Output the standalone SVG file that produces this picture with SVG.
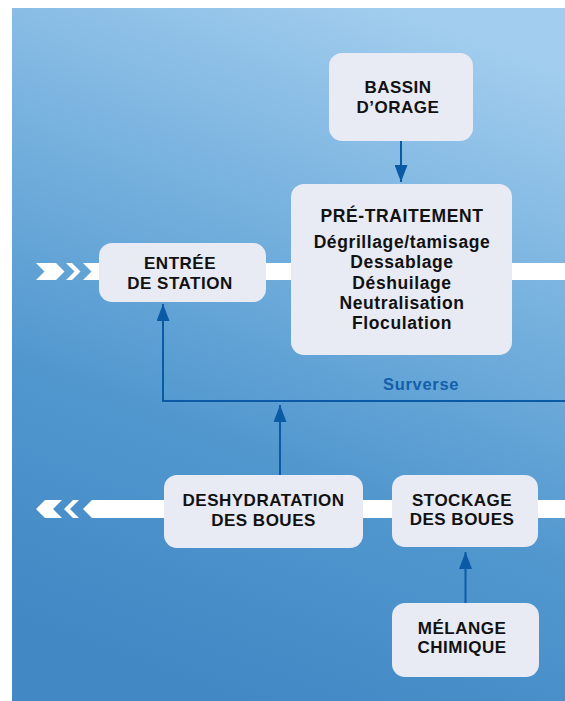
<svg xmlns="http://www.w3.org/2000/svg" width="565" height="701" viewBox="0 0 565 701">
<defs>
<linearGradient id="bg" x1="0.7" y1="0" x2="0.4" y2="1">
<stop offset="0" stop-color="#a2cdee"/>
<stop offset="0.3" stop-color="#7bb4e0"/>
<stop offset="0.65" stop-color="#5298cf"/>
<stop offset="1" stop-color="#4188c5"/>
</linearGradient>
<marker id="ah" markerUnits="userSpaceOnUse" markerWidth="17" markerHeight="13" viewBox="0 0 17 13" refX="17" refY="6.5" orient="auto">
<path d="M0,0 L17,6.5 L0,13 Z" fill="#0b5aa6"/>
</marker>
<style>
.box{fill:#e8eaf4;}
.lbl{font-family:"Liberation Sans",Arial,sans-serif;font-weight:bold;font-size:17px;letter-spacing:0.5px;fill:#111;text-anchor:middle;}
.pt{font-family:"Liberation Sans",Arial,sans-serif;font-weight:bold;font-size:17.5px;letter-spacing:0.6px;fill:#111;text-anchor:middle;}
.band{fill:#ffffff;}
.con{fill:none;stroke:#0b5aa6;stroke-width:2;}
.sv{font-family:"Liberation Sans",Arial,sans-serif;font-weight:bold;font-size:16.5px;letter-spacing:0.7px;fill:#135fa9;}
</style>
</defs>
<rect x="12" y="8" width="553" height="693" fill="url(#bg)"/>
<g id="flows">
<polygon class="band" points="36,263 56,263 64.5,271.5 56,280 36,280 44.5,271.5"/>
<polygon class="band" points="66,263 72,263 80.5,271.5 72,280 66,280 74.5,271.5"/>
<polygon class="band" points="83,263 565,263 565,280 83,280 91.5,271.5"/>
<polygon class="band" points="36,509 45,500 62,500 53,509 62,518 45,518"/>
<polygon class="band" points="64,509 73,500 79,500 70,509 79,518 73,518"/>
<polygon class="band" points="83,509 92,500 565,500 565,518 92,518"/>
</g>
<g id="connectors">
<path class="con" d="M401,141 V182" marker-end="url(#ah)"/>
<path class="con" d="M565,401 H163 V304" marker-end="url(#ah)"/>
<path class="con" d="M280,475 V405" marker-end="url(#ah)"/>
<path class="con" d="M465.5,603 V552" marker-end="url(#ah)"/>
<text class="sv" x="383" y="390">Surverse</text>
</g>
<g id="bassin">
<rect class="box" x="329" y="53" width="144" height="88" rx="13"/>
<text class="lbl" x="398" y="93">BASSIN</text>
<text class="lbl" x="398" y="113">D’ORAGE</text>
</g>
<g id="pretraitement">
<rect class="box" x="291" y="184" width="221" height="171" rx="13"/>
<text class="pt" x="402" y="222">PRÉ-TRAITEMENT</text>
<text class="pt" x="402" y="248">Dégrillage/tamisage</text>
<text class="pt" x="402" y="268">Dessablage</text>
<text class="pt" x="402" y="289">Déshuilage</text>
<text class="pt" x="402" y="309">Neutralisation</text>
<text class="pt" x="402" y="329">Floculation</text>
</g>
<g id="entree">
<rect class="box" x="99" y="243" width="167" height="59" rx="13"/>
<text class="lbl" x="180" y="269">ENTRÉE</text>
<text class="lbl" x="180" y="289">DE STATION</text>
</g>
<g id="deshydratation">
<rect class="box" x="164" y="475" width="199" height="73" rx="13"/>
<text class="lbl" x="263.5" y="506">DESHYDRATATION</text>
<text class="lbl" x="263.5" y="526">DES BOUES</text>
</g>
<g id="stockage">
<rect class="box" x="392" y="475" width="146" height="72" rx="13"/>
<text class="lbl" x="462" y="506">STOCKAGE</text>
<text class="lbl" x="462" y="525">DES BOUES</text>
</g>
<g id="melange">
<rect class="box" x="392" y="603" width="147" height="74" rx="13"/>
<text class="lbl" x="462" y="634">MÉLANGE</text>
<text class="lbl" x="462" y="653">CHIMIQUE</text>
</g>
</svg>
